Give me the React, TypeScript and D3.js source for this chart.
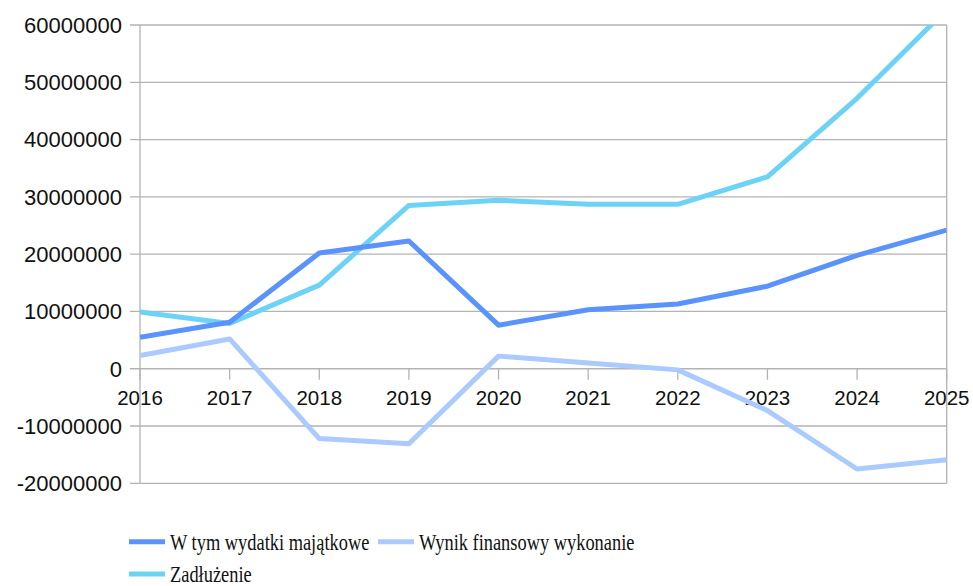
import React from "react";
import * as d3 from "d3";

const years = ["2016", "2017", "2018", "2019", "2020", "2021", "2022", "2023", "2024", "2025"];
const wydatki = [5500000, 8100000, 20200000, 22300000, 7600000, 10300000, 11300000, 14400000, 19800000, 24200000];
const wynik = [2300000, 5200000, -12200000, -13100000, 2200000, 1000000, -200000, -7300000, -17500000, -15900000];
const zadluzenie = [9900000, 7900000, 14600000, 28500000, 29400000, 28700000, 28700000, 33500000, 47200000, 62700000];
const yTicks = [60000000, 50000000, 40000000, 30000000, 20000000, 10000000, 0, -10000000, -20000000];

const series = [
  { name: "W tym wydatki majątkowe", values: wydatki, color: "#5b93fc" },
  { name: "Wynik finansowy wykonanie", values: wynik, color: "#abcaff" },
  { name: "Zadłużenie", values: zadluzenie, color: "#6cd3f7" },
];

export default function App() {
  const W = 973, H = 586;
  const left = 140, right = 946.7, top = 25, bottom = 483.3;
  const x = d3.scalePoint<string>().domain(years).range([left, right]);
  const y = d3.scaleLinear().domain([-20000000, 60000000]).range([bottom, top]);
  const line = d3.line<number>().x((_, i) => x(years[i])!).y((v) => y(v));
  const grid = "#b3b3b3";
  const drawOrder = [series[2], series[0], series[1]];
  return (
    <svg width={W} height={H} style={{ position: "absolute", left: 0, top: 0 }}>
      <rect width={W} height={H} fill="#fff" />
      <defs>
        <clipPath id="plot">
          <rect x={left} y={top} width={right - left} height={bottom - top} />
        </clipPath>
      </defs>
      {yTicks.map((t) => (
        <g key={t}>
          <line x1={130} x2={right} y1={y(t)} y2={y(t)} stroke={grid} strokeWidth={1.3} />
          <text x={122} y={y(t)} dy="0.36em" textAnchor="end" fontFamily="Liberation Sans, Arial, sans-serif" fontSize={22} fill="#111">
            {String(t)}
          </text>
        </g>
      ))}
      <line x1={left} x2={left} y1={top} y2={bottom} stroke={grid} strokeWidth={1.3} />
      <line x1={right} x2={right} y1={top} y2={bottom} stroke={grid} strokeWidth={1.3} />
      {years.map((yr) => (
        <g key={yr}>
          <line x1={x(yr)} x2={x(yr)} y1={y(0)} y2={y(0) + 11} stroke={grid} strokeWidth={1.3} />
          <text x={x(yr)} y={405} textAnchor="middle" fontFamily="Liberation Sans, Arial, sans-serif" fontSize={20.5} fill="#111">
            {yr}
          </text>
        </g>
      ))}
      <g clipPath="url(#plot)">
        {drawOrder.map((s) => (
          <path key={s.name} d={line(s.values)!} fill="none" stroke={s.color} strokeWidth={5} strokeLinejoin="round" />
        ))}
      </g>
      {[
        { s: series[0], lx: 129, ly: 541.7 },
        { s: series[1], lx: 378, ly: 541.7 },
        { s: series[2], lx: 129, ly: 574 },
      ].map(({ s, lx, ly }) => (
        <g key={s.name}>
          <line x1={lx} x2={lx + 36} y1={ly} y2={ly} stroke={s.color} strokeWidth={5} />
          <g transform={`translate(${lx + 41},${ly}) scale(0.8,1)`}>
            <text x={0} y={0} dy="0.34em" fontFamily="Liberation Serif, Times New Roman, serif" fontSize={23} fill="#111">
              {s.name}
            </text>
          </g>
        </g>
      ))}
    </svg>
  );
}
